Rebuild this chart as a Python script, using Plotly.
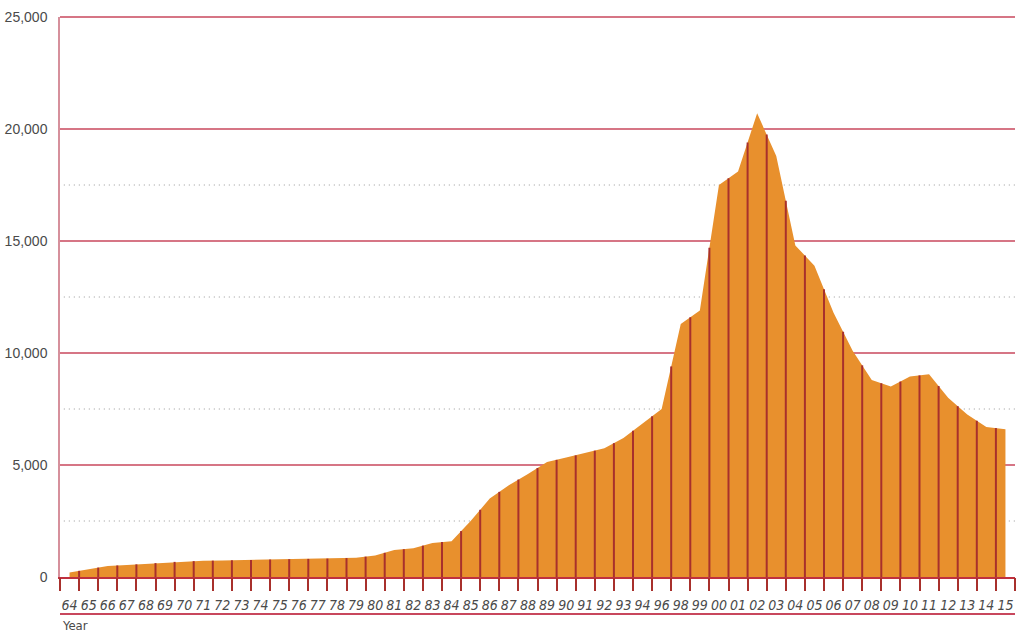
import numpy as np
import plotly.graph_objects as go

year_labels = ['64', '65', '66', '67', '68', '69', '70', '71', '72', '73',
               '74', '75', '76', '77', '78', '79', '80', '81', '82', '83',
               '84', '85', '86', '87', '88', '89', '90', '91', '92', '93',
               '94', '96', '98', '99', '00', '01', '02', '03', '04', '05',
               '06', '07', '08', '09', '10', '11', '12', '13', '14', '15']
values = [200, 350, 490, 540, 590, 650, 700, 720, 740, 755,
          770, 790, 800, 815, 830, 860, 960, 1200, 1280, 1520,
          1600, 2500, 3500, 4100, 4600, 5130, 5330, 5530, 5750, 6200,
          6850, 7500, 11300, 11900, 17500, 18100, 20700, 18800, 14800, 13900,
          11800, 10100, 8800, 8500, 8950, 9050, 8000, 7250, 6700, 6600]
y_ticks = [0, 5000, 10000, 15000, 20000, 25000]
y_dotted = [2500, 7500, 12500, 17500]

idx = np.arange(len(year_labels))
bounds = idx[:-1] + 0.5
bound_heights = np.interp(bounds, idx, values)
x_lo, x_hi = -0.5, len(year_labels) - 0.5

ORANGE = '#E8902D'
DARKRED = '#A8302C'
GRID = '#C8475D'
TEXT = '#4a4a4a'
NARROW = 'Liberation Sans Narrow, Arial Narrow, DejaVu Sans Condensed, sans-serif'

fig = go.Figure()

# horizontal grid lines (top one in paper coords so it is not clipped)
for v in y_ticks[1:-1]:
    fig.add_shape(type='line', xref='x', yref='y', x0=x_lo, x1=x_hi, y0=v, y1=v,
                  line=dict(color=GRID, width=1.4), layer='below')
fig.add_shape(type='line', xref='paper', yref='paper', x0=0, x1=1, y0=1, y1=1,
              line=dict(color=GRID, width=1.4))
for v in y_dotted:
    fig.add_shape(type='line', xref='x', yref='y', x0=x_lo + 0.2, x1=x_hi, y0=v, y1=v,
                  line=dict(color='#999999', width=1, dash='1px,4px'), layer='below')

fig.add_trace(go.Scatter(x=idx, y=values, mode='lines', fill='tozeroy',
                         fillcolor=ORANGE, line=dict(width=0, color=ORANGE),
                         hoverinfo='skip', showlegend=False))
vx, vy = [], []
for b, h in zip(bounds, bound_heights):
    vx += [b, b, None]
    vy += [0, h, None]
fig.add_trace(go.Scatter(x=vx, y=vy, mode='lines',
                         line=dict(width=2, color=DARKRED),
                         hoverinfo='skip', showlegend=False))
# invisible trace on the overlay axis for tick marks
fig.add_trace(go.Scatter(x=[x_lo, x_hi], y=[0, 0], mode='markers', xaxis='x2',
                         marker=dict(opacity=0), hoverinfo='skip', showlegend=False))

fig.update_layout(
    width=1016, height=633,
    margin=dict(l=60, r=1, t=17, b=56, autoexpand=False),
    paper_bgcolor='white', plot_bgcolor='white',
    showlegend=False,
    xaxis=dict(
        range=[x_lo, x_hi], automargin=False,
        tickmode='array', tickvals=list(idx), ticktext=year_labels,
        ticks='', showgrid=False, zeroline=False,
        showline=True, linecolor='#C0303E', linewidth=2,
        tickfont=dict(family=NARROW, size=14, color=TEXT, style='italic'),
        ticklabelstandoff=14,
    ),
    xaxis2=dict(
        range=[x_lo, x_hi], overlaying='x', side='bottom', automargin=False,
        tickmode='array', tickvals=[x_lo] + list(bounds) + [x_hi],
        ticks='outside', ticklen=13, tickwidth=2, tickcolor=DARKRED,
        showticklabels=False, showgrid=False, zeroline=False, showline=False,
    ),
    yaxis=dict(
        range=[0, 25000], automargin=False,
        tickmode='array', tickvals=y_ticks,
        ticktext=[f'{v:,}' for v in y_ticks],
        showgrid=False, zeroline=False,
        showline=True, linecolor='#D6909C', linewidth=1.5,
        ticks='', ticklabelstandoff=8,
        tickfont=dict(family='Liberation Sans, Arial, sans-serif', size=14, color=TEXT),
    ),
)

fig.add_shape(type='line', xref='paper', yref='paper', x0=0, x1=1,
              y0=-37 / 560, y1=-37 / 560, line=dict(color=GRID, width=2))
fig.add_annotation(text='Year', xref='paper', yref='paper', x=0, y=-48 / 560,
                   xanchor='left', yanchor='middle', showarrow=False,
                   font=dict(family=NARROW, size=13, color=TEXT))

fig.write_html('out.html', config={'displayModeBar': False},
               post_script="document.body.style.margin='0';document.body.style.overflow='hidden';")
